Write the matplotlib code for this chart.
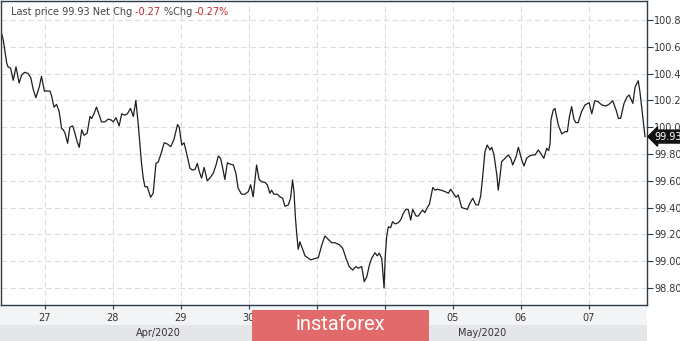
import matplotlib
matplotlib.use("Agg")
import matplotlib.pyplot as plt
from matplotlib.patches import Rectangle
from matplotlib.transforms import blended_transform_factory

# trading hours counted from Apr 27 00:00 (weekend skipped)
hours = [
    -15.3, -14.7, -13.5, -13.0, -12.1, -11.2, -10.2, -9.1, -8.2, -7.1, -5.9, -5.0,
    -4.1, -3.2, -2.0, -1.2, -0.2, 0.6, 1.8, 2.4, 3.2, 4.1, 5.0, 5.9, 6.5, 7.1, 8.0,
    8.8, 9.8, 10.6, 11.4, 12.1, 13.0, 13.8, 14.9, 15.9, 16.5, 17.3, 18.2, 19.2, 20.0,
    21.2, 22.3, 23.3, 24.1, 25.1, 26.2, 27.1, 28.2, 29.1, 30.2, 31.2, 32.1, 32.9,
    33.5, 34.1, 34.7, 35.3, 36.1, 37.3, 38.2, 39.2, 40.0, 41.2, 42.1, 43.2, 44.4,
    45.5, 46.8, 47.4, 48.3, 49.1, 50.0, 51.2, 52.1, 53.0, 53.8, 54.5, 55.3, 56.2,
    57.3, 58.2, 59.4, 60.4, 61.2, 62.0, 62.7, 63.5, 64.4, 65.3, 66.5, 67.4, 68.2,
    69.4, 70.6, 71.8, 72.6, 73.5, 74.7, 75.1, 75.6, 76.5, 77.7, 78.5, 79.4, 80.0,
    80.8, 82.0, 83.0, 83.9, 84.7, 85.9, 86.7, 87.4, 87.9, 88.4, 88.8, 89.4, 90.0,
    90.6, 91.8, 93.8, 95.3, 96.5, 97.7, 98.8, 100.0, 101.2, 102.4, 104.1, 105.1,
    106.3, 107.4, 108.6, 109.8, 110.6, 111.8, 112.7, 113.6, 114.5, 115.3, 116.5,
    117.3, 118.0, 118.9, 119.7, 120.1, 120.6, 121.2, 122.0, 122.7, 123.6, 124.7,
    125.6, 126.5, 127.4, 128.2, 129.1, 129.8, 131.0, 131.8, 132.6, 133.3, 134.1,
    135.0, 135.7, 136.9, 137.7, 138.5, 139.7, 141.2, 142.4, 143.2, 144.4, 145.1,
    145.9, 147.1, 147.9, 149.1, 150.0, 151.0, 152.1, 153.0, 153.8, 154.5, 155.3,
    156.1, 157.1, 157.7, 158.5, 159.5, 160.0, 160.6, 161.2, 162.4, 163.5, 164.4,
    165.1, 166.3, 167.1, 168.3, 169.1, 170.0, 171.0, 172.2, 173.0, 174.1, 175.0,
    176.1, 177.1, 177.8, 178.3, 178.6, 179.4, 180.0, 181.2, 182.4, 183.6, 184.4,
    185.1, 185.9, 186.7, 187.4, 188.2, 189.4, 190.6, 192.1, 193.0, 194.1, 195.3,
    196.5, 198.0, 199.2, 200.4, 201.6, 202.4, 203.2, 204.4, 205.5, 206.2, 207.5,
    208.3, 209.4, 210.0, 211.0, 211.8,
]
prices = [
    100.70, 100.65, 100.48, 100.45, 100.44, 100.35, 100.45, 100.33, 100.39, 100.41,
    100.40, 100.37, 100.28, 100.22, 100.30, 100.38, 100.27, 100.27, 100.27, 100.23,
    100.15, 100.17, 100.12, 99.99, 99.98, 99.955, 99.88, 100.00, 100.01, 99.955,
    99.89, 99.85, 99.98, 99.94, 99.955, 100.08, 100.065, 100.10, 100.15, 100.09,
    100.04, 100.04, 100.06, 100.055, 100.04, 100.07, 100.01, 100.10, 100.09, 100.10,
    100.14, 100.08, 100.20, 100.03, 99.88, 99.73, 99.62, 99.556, 99.556, 99.477,
    99.507, 99.73, 99.74, 99.817, 99.884, 99.875, 99.855, 99.905, 100.02, 100.00,
    99.867, 99.884, 99.805, 99.693, 99.68, 99.686, 99.73, 99.668, 99.62, 99.70,
    99.60, 99.62, 99.656, 99.718, 99.785, 99.768, 99.70, 99.61, 99.735, 99.725,
    99.718, 99.656, 99.544, 99.50, 99.50, 99.52, 99.57, 99.48, 99.718, 99.668,
    99.61, 99.593, 99.588, 99.569, 99.507, 99.53, 99.50, 99.50, 99.48, 99.47, 99.41,
    99.42, 99.47, 99.606, 99.52, 99.33, 99.22, 99.089, 99.145, 99.11, 99.04, 99.01,
    99.02, 99.026, 99.12, 99.188, 99.163, 99.138, 99.138, 99.12, 99.096, 99.02,
    98.96, 98.934, 98.96, 98.947, 98.96, 98.847, 98.884, 98.97, 99.02, 99.063,
    99.04, 99.06, 99.02, 98.80, 99.03, 99.18, 99.257, 99.25, 99.295, 99.278, 99.287,
    99.31, 99.357, 99.387, 99.387, 99.307, 99.387, 99.337, 99.337, 99.362, 99.382,
    99.362, 99.402, 99.425, 99.55, 99.53, 99.537, 99.53, 99.52, 99.507, 99.537,
    99.50, 99.477, 99.494, 99.40, 99.395, 99.387, 99.432, 99.47, 99.42, 99.42,
    99.487, 99.63, 99.817, 99.867, 99.83, 99.85, 99.793, 99.643, 99.53, 99.63,
    99.743, 99.768, 99.793, 99.768, 99.718, 99.78, 99.85, 99.755, 99.71, 99.768,
    99.785, 99.793, 99.793, 99.83, 99.805, 99.768, 99.843, 99.825, 99.88, 100.054,
    100.128, 100.14, 100.016, 99.95, 99.967, 99.967, 100.078, 100.153, 100.06,
    100.034, 100.034, 100.116, 100.166, 100.183, 100.10, 100.198, 100.19, 100.166,
    100.158, 100.173, 100.198, 100.128, 100.066, 100.066, 100.178, 100.228, 100.24,
    100.178, 100.30, 100.347, 100.265, 100.078, 99.93,
]

day_labels = ["27", "28", "29", "30", "01", "04", "05", "06", "07"]
price_ticks = [98.8, 99.0, 99.2, 99.4, 99.6, 99.8, 100.0, 100.2, 100.4, 100.6, 100.8]
last_price = 99.93
net_chg = "-0.27"
pct_chg = "-0.27%"

W, H = 680, 341
fig = plt.figure(figsize=(W / 100, H / 100), dpi=100)
fig.patch.set_facecolor("white")

def px_rect(x0, y0, x1, y1, **kw):
    # rectangle in figure pixels, y measured from top
    r = Rectangle((x0 / W, 1 - y1 / H), (x1 - x0) / W, (y1 - y0) / H,
                  transform=fig.transFigure, **kw)
    fig.add_artist(r)
    return r

# bottom bands
px_rect(0, 305, 647, 325, facecolor="#f2f4f6", edgecolor="none", zorder=0)
px_rect(0, 325, 647, 341, facecolor="#e4e6e9", edgecolor="none", zorder=0)

ax = fig.add_axes([1 / W, 36 / H, 646 / W, 304 / H])
ax.plot(hours, prices, color="#1e1e1e", lw=0.9)

ax.set_xlim(-15.5, 212.5)
ax.set_ylim(98.673, 100.942)

ax.set_xticks([24 * i for i in range(len(day_labels))])
ax.set_xticklabels(day_labels)
ax.set_yticks(price_ticks)
ax.set_yticklabels(["%.2f" % v for v in price_ticks])
ax.yaxis.tick_right()

ax.grid(True, color="#dcdcdc", linestyle=(0, (5, 3)), lw=0.8)
ax.set_axisbelow(True)
for s in ax.spines.values():
    s.set_color("#2d3a48")
    s.set_linewidth(1.0)
ax.tick_params(axis="x", length=3, pad=3, labelsize=7, colors="#2d3a48", labelcolor="#333333")
ax.tick_params(axis="y", length=4, pad=1, labelsize=7, colors="#2d3a48", labelcolor="#333333")

# month labels
fig.text(158 / W, 1 - 333 / H, "Apr/2020", fontsize=7, color="#333333", ha="center", va="center")
fig.text(482 / W, 1 - 333 / H, "May/2020", fontsize=7, color="#333333", ha="center", va="center")

# last price tag
trans = blended_transform_factory(ax.transAxes, ax.transData)
ax.text(1.012, last_price, "%.2f" % last_price, transform=trans, fontsize=7, color="white",
        ha="left", va="center", clip_on=False,
        bbox=dict(boxstyle="larrow,pad=0.15", fc="#111111", ec="#111111"))

# header
fig.canvas.draw()
r = fig.canvas.get_renderer()
x = 11
pieces = [("Last price %.2f Net Chg " % last_price, "#444444"), (net_chg + " ", "#c0282d"),
          ("%Chg ", "#444444"), (pct_chg, "#c0282d")]
for txt, col in pieces:
    t = fig.text(x / W, 1 - 12 / H, txt, fontsize=7, color=col, ha="left", va="center")
    x += t.get_window_extent(r).width

# logo
px_rect(252, 310, 429, 341, facecolor="#e36a6a", edgecolor="none", zorder=5)
fig.text(340 / W, 1 - 325 / H, "instaforex", fontsize=14.5, color="white", ha="center",
         va="center", zorder=6, family=["Roboto", "DejaVu Sans"])

fig.savefig("out.png", dpi=100)
